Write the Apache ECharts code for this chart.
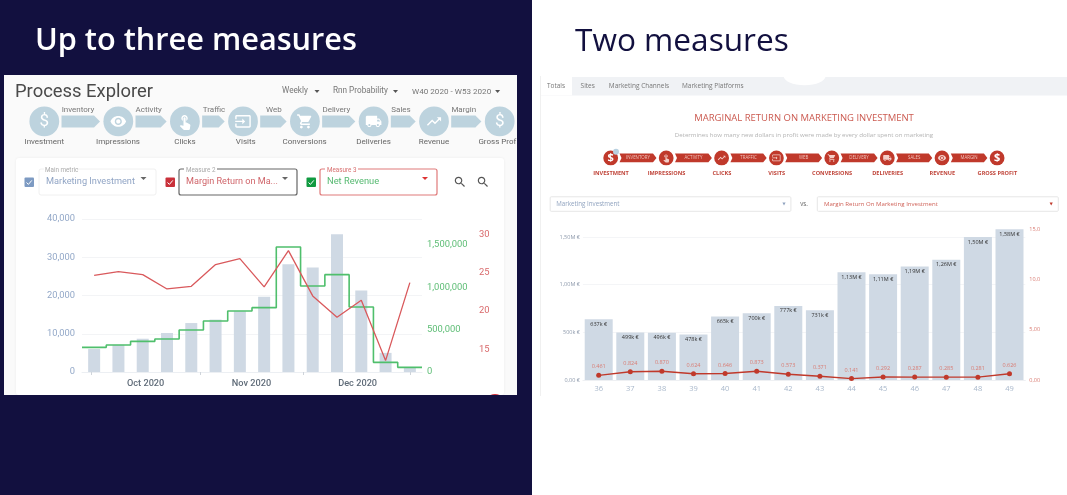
<!DOCTYPE html>
<html><head><meta charset="utf-8">
<style>html,body{margin:0;padding:0;background:#fff}#c{width:1067px;height:495px}</style>
<script src="https://cdn.jsdelivr.net/npm/echarts@6/dist/echarts.min.js"></script>
</head><body><div id="c"></div>
<script>
// ---- left chart data
const leftWeeks = ['W40','W41','W42','W43','W44','W45','W46','W47','W48','W49','W50','W51','W52','W53'];
const marketingInvestment = [6000,7100,8700,10200,12800,13700,15900,19650,28200,27300,36000,21300,5000,1300];
const netRevenue = [291000,319000,362000,390000,496000,602000,720000,760000,1476000,1016000,1150000,768000,114000,55000];
const marginReturn = [24.68,25.16,24.77,22.89,23.24,26.08,26.86,23.16,27.91,21.98,19.19,21.41,13.52,23.72];
const monthLabels = ['Oct 2020','Nov 2020','Dec 2020'];
const monthLabelAt = [2.62,6.98,11.35];
const monthTickAt = [0.4,4.85,9.13,13.52];
// ---- right chart data
const rightWeeks = ['36','37','38','39','40','41','42','43','44','45','46','47','48','49'];
const rightInvestment = [637000,499000,496000,478000,665000,700000,777000,731000,1130000,1110000,1190000,1260000,1500000,1580000];
const rightReturn = [0.461,0.824,0.870,0.624,0.646,0.873,0.573,0.371,0.141,0.292,0.287,0.285,0.281,0.626];
// ---- flow text
const leftStages = ['Investment','Impressions','Clicks','Visits','Conversions','Deliveries','Revenue','Gross Profit'];
const leftLinks = ['Inventory','Activity','Traffic','Web','Delivery','Sales','Margin'];
const rightStages = ['INVESTMENT','IMPRESSIONS','CLICKS','VISITS','CONVERSIONS','DELIVERIES','REVENUE','GROSS PROFIT'];
const rightLinks = ['INVENTORY','ACTIVITY','TRAFFIC','WEB','DELIVERY','SALES','MARGIN'];

const NAVY='#12103f', F='Roboto, sans-serif', O='"Open Sans", sans-serif';
const P = {
 eye:'M12 4.5C7 4.5 2.73 7.61 1 12c1.73 4.39 6 7.5 11 7.5s9.27-3.11 11-7.5c-1.73-4.39-6-7.5-11-7.5zM12 17c-2.76 0-5-2.24-5-5s2.24-5 5-5 5 2.24 5 5-2.24 5-5 5zm0-8c-1.66 0-3 1.34-3 3s1.34 3 3 3 3-1.34 3-3-1.34-3-3-3z',
 cart:'M7 18c-1.1 0-1.99.9-1.99 2S5.9 22 7 22s2-.9 2-2-.9-2-2-2zM1 2v2h2l3.6 7.59-1.35 2.45c-.16.28-.25.61-.25.96 0 1.1.9 2 2 2h12v-2H7.42c-.14 0-.25-.11-.25-.25l.03-.12.9-1.63h7.45c.75 0 1.41-.41 1.75-1.03l3.58-6.49c.08-.12.12-.28.12-.42 0-.55-.45-1-1-1H5.21l-.94-2H1zm16 16c-1.1 0-1.99.9-1.99 2s.89 2 1.99 2 2-.9 2-2-.9-2-2-2z',
 truck:'M20 8h-3V4H3c-1.1 0-2 .9-2 2v11h2c0 1.66 1.34 3 3 3s3-1.34 3-3h6c0 1.66 1.34 3 3 3s3-1.34 3-3h2v-5l-3-4zM6 18.5c-.83 0-1.5-.67-1.5-1.5s.67-1.5 1.5-1.5 1.5.67 1.5 1.5-.67 1.5-1.5 1.5zm13.5-9l1.96 2.5H17V9.5h2.5zm-1.5 9c-.83 0-1.5-.67-1.5-1.5s.67-1.5 1.5-1.5 1.5.67 1.5 1.5-.67 1.5-1.5 1.5z',
 trend:'M16 6l2.29 2.29-4.88 4.88-4-4L2 16.59 3.41 18l6-6 4 4 6.3-6.29L22 12V6z',
 input:'M21 3.01H3c-1.1 0-2 .9-2 2V9h2V4.99h18v14.03H3V15H1v4.01c0 1.1.9 1.98 2 1.98h18c1.1 0 2-.88 2-1.98v-14c0-1.11-.9-2-2-2zM11 16l4-4-4-4v3H1v2h10v3z',
 touch:'M9 11.24V7.5C9 6.12 10.12 5 11.5 5S14 6.12 14 7.5v3.74c1.21-.81 2-2.18 2-3.74C16 5.01 13.99 3 11.5 3S7 5.01 7 7.5c0 1.56.79 2.93 2 3.74zm9.84 4.63l-4.54-2.26c-.17-.07-.35-.11-.54-.11H13v-6c0-.83-.67-1.5-1.5-1.5S10 6.67 10 7.5v10.74l-3.43-.72c-.08-.01-.15-.03-.24-.03-.31 0-.59.13-.79.33l-.79.8 4.94 4.94c.27.27.65.44 1.06.44h6.79c.75 0 1.33-.55 1.44-1.28l.75-5.27c.01-.07.02-.14.02-.2 0-.62-.38-1.16-.91-1.38z',
 zoom:'M15.5 14h-.79l-.28-.27C15.41 12.59 16 11.11 16 9.5 16 5.91 13.09 3 9.5 3S3 5.91 3 9.5 5.91 16 9.5 16c1.61 0 3.09-.59 4.23-1.57l.27.28v.79l5 4.99L20.49 19l-4.99-5zm-6 0C7.01 14 5 11.99 5 9.5S7.01 5 9.5 5 14 7.01 14 9.5 11.99 14 9.5 14z'
};
Object.keys(P).forEach(k=>echarts.graphic.registerShape('ic_'+k,echarts.graphic.extendPath(P[k],{})));
const g = [];
const rect=(x,y,w,h,fill,extra={},r=0)=>g.push({type:'rect',shape:{x,y,width:w,height:h,r},style:{fill,...extra},silent:true});
const txt=(x,y,text,size,fill,font=F,align='left',weight=400)=>g.push({type:'text',x,y,silent:true,style:{text,fontSize:size,fill,fontFamily:font,align,verticalAlign:'middle',fontWeight:weight}});
const circ=(cx,cy,r,fill)=>g.push({type:'circle',shape:{cx,cy,r},style:{fill},silent:true});
const poly=(pts,fill)=>g.push({type:'polygon',shape:{points:pts},style:{fill},silent:true});
const icon=(k,cx,cy,s,fill)=>g.push({type:'ic_'+k,x:cx-s/2,y:cy-s/2,scaleX:s/24,scaleY:s/24,style:{fill},silent:true});
const caret=(x,y,fill,s=3)=>poly([[x-s,y-1.5],[x+s,y-1.5],[x,y+1.5]],fill);
const arrow=(x1,x2,y,h,fill,tip)=>poly([[x1,y-h/2],[x2-tip,y-h/2],[x2,y],[x2-tip,y+h/2],[x1,y+h/2],[x1+(tip>4?0:2),y]],fill);

// page
rect(0,0,532,495,NAVY);
txt(35,41.5,'Up to three measures',30.7,'#ffffff',O,'left',600);
txt(575,41.5,'Two measures',31.6,NAVY,O,'left',500);

// left screenshot panel
rect(4,75,513,320,'#fafafa');
txt(15,92.5,'Process Explorer',18.4,'#4a4a4a');
txt(282,91,'Weekly',8.2,'#777'); caret(317,91.5,'#555',2.5);
txt(333,91,'Rnn Probability',8.2,'#777'); caret(395.5,91.5,'#555',2.5);
txt(412,91.5,'W40 2020 - W53 2020',8.1,'#777'); caret(497.6,91.5,'#555',2.5);
const lcx=[44.3,118.3,184.9,243,304.9,373.6,434,499.7];
const llx=[78,148.7,214,273.8,336.4,401,463.8];
const lbx=[44.3,118,185,245.8,304.6,373.6,434];
const lIcons=[null,'eye','touch','input','cart','truck','trend',null];
const STEEL='#bdd3de', FY=121.4;
lcx.forEach((x,i)=>{
  circ(x,FY,14.9,STEEL);
  if(i<7){ arrow(x+17.2,lcx[i+1]-18.3,FY,12,STEEL,6); txt(llx[i],109.6,leftLinks[i],8,'#777',F,'center'); }
  if(lIcons[i]) icon(lIcons[i],x,FY,17,'#fff'); else txt(x,FY+.5,'$',17,'#fff',F,'center');
  if(i<7) txt(lbx[i],141.7,leftStages[i],8,'#666',F,'center');
});
txt(478.4,141.7,'Gross Prof',8,'#666');
rect(16,158,488,237,'#ffffff',{shadowBlur:3,shadowColor:'rgba(0,0,0,0.06)'},3);

// measure selectors
const box=(x,w,border,lw)=>rect(x,169,w,26,'#fff',{stroke:border,lineWidth:lw},2);
const check=(x,fill)=>{rect(x-4.5,177.5,9.5,9.5,fill,{},1);g.push({type:'polyline',shape:{points:[[x-2.5,182.5],[x-.6,184.4],[x+2.8,180.4]]},style:{stroke:'#fff',lineWidth:1,fill:null},silent:true});};
check(29,'#7d9ac2'); box(39,117,'#f0f0f0',1);
rect(44,167,33,5,'#fff'); txt(45,170.5,'Main metric',6.3,'#aaa');
txt(46,181.5,'Marketing Investment',9.2,'#91a5c5'); caret(143.5,178.5,'#666');
check(170,'#c9303a'); box(179,118,'#666',1.2);
rect(184,167,33,5,'#fff'); txt(186,170.5,'Measure 2',6.3,'#aaa');
txt(186,181.5,'Margin Return on Ma...',9.1,'#d0656a'); caret(285,178.5,'#666');
check(311,'#109a40'); box(320,117,'#e07a7a',1.2);
rect(325,167,33,5,'#fff'); txt(327,170.5,'Measure 3',6.3,'#d87070');
txt(327,181.5,'Net Revenue',9.3,'#55b970'); caret(425,178.5,'#d33');
icon('zoom',460,182,14,'#555'); icon('zoom',483,182,14,'#555');
circ(495,406,12,'#d3323a');
rect(0,395,532,100,NAVY);

// right panel
rect(540,76,1,320,'#f0f0f0');
rect(541,77,526,18.4,'#f0f2f5');
g.push({type:'ellipse',shape:{cx:804.6,cy:76,rx:21,ry:9.2},style:{fill:'#fff'},silent:true});
rect(541,77,31,18.4,'#ffffff');
txt(556,86.2,'Totals',6.5,'#777',O,'center');
txt(587.7,86.2,'Sites',6.5,'#777',O,'center');
txt(639,86.2,'Marketing Channels',6.5,'#777',O,'center');
txt(712.8,86.2,'Marketing Platforms',6.5,'#777',O,'center');
txt(804,118.7,'MARGINAL RETURN ON MARKETING INVESTMENT',9.5,'#cb5a50',O,'center');
txt(804,135.6,'Determines how many new dollars in profit were made by every dollar spent on marketing',6.15,'#b3b3b3',O,'center');
const rcx=[610.7,666.2,721.6,776.4,831.8,887.3,942,997.1];
const RED='#c0392b', RY=157.9;
const rIcons=[null,'touch','trend','input','cart','truck','eye',null];
rcx.forEach((x,i)=>{
  circ(x,RY,7.4,RED);
  if(i<7){ arrow(x+8.8,rcx[i+1]-9.7,RY,8.8,RED,3.5); txt((x+rcx[i+1])/2-.5,RY+.2,rightLinks[i],4.4,'#f0c4bd',O,'center'); }
  if(rIcons[i]) icon(rIcons[i],x,RY,9,'#f3cfc9'); else txt(x,RY+.3,'$',11,'#fff',O,'center',700);
  txt(x+.3,173.4,rightStages[i],5.6,'#c0453a',O,'center',700);
});
circ(616,151.8,3,'#b8d0e0');
rect(550.2,196.8,240.7,14.5,'#fff',{stroke:'#e6e6e6',lineWidth:1},1);
txt(556.3,204,'Marketing Investment',6.2,'#90a3bf',O); caret(784,204,'#90a3bf',1.6);
txt(804,204.5,'vs.',6.2,'#666',O,'center');
rect(817.3,196.8,241,14.5,'#fff',{stroke:'#e6e6e6',lineWidth:1},1);
txt(824,204,'Margin Return On Marketing Investment',6.05,'#cf6258',O); caret(1051.2,204,'#c0392b',1.6);

const hide={show:false};
const L=82, W=340, RL=582.9, RW=442.4;
const money=v=> v===0?'0,00 €': v>=1e6?(v/1e6).toFixed(2).replace('.',',')+'M €':Math.round(v/1000)+'k €';
const rightAxisFmt=v=> v===15?'15,0':v===10?'10,0':v.toFixed(2).replace('.',',');
const option={
 animation:false,
 textStyle:{fontFamily:F},
 graphic:{elements:g},
 grid:[
  {left:L,width:W,top:219,height:153},
  {left:L,width:W,top:202.7,height:169.3},
  {left:L,width:W,top:196.4,height:191.1},
  {left:RL,width:RW,top:189.3,height:190.7},
  {left:RL,width:RW,top:229,height:151}
 ],
 xAxis:[
  {gridIndex:0,type:'category',data:leftWeeks,axisLabel:hide,axisTick:hide,axisLine:{lineStyle:{color:'#eceff3'}}},
  {gridIndex:0,type:'value',min:0,max:14,position:'bottom',splitLine:hide,
   axisLine:hide,
   axisTick:{show:true,length:3,lineStyle:{color:'#cfd4da'},customValues:monthTickAt},
   axisLabel:{show:true,customValues:monthLabelAt,margin:7,fontSize:9.2,color:'#5f6b78',fontFamily:F,fontWeight:500,
     formatter:v=>monthLabels[monthLabelAt.indexOf(v)]}},
  {gridIndex:1,type:'value',min:0,max:14,show:false},
  {gridIndex:2,type:'category',data:leftWeeks,show:false},
  {gridIndex:3,type:'category',data:rightWeeks,axisTick:hide,axisLine:{lineStyle:{color:'#eef0f3'}},
   axisLabel:{fontSize:7.5,color:'#a9b8cb',fontFamily:O,margin:5}},
  {gridIndex:4,type:'category',data:rightWeeks,show:false}
 ],
 yAxis:[
  {gridIndex:0,type:'value',min:0,max:40000,interval:10000,axisLine:hide,axisTick:hide,
   splitLine:{lineStyle:{color:'#f3f4f6'}},
   axisLabel:{fontSize:9.3,color:'#93a8c8',margin:7,formatter:v=>v.toLocaleString('en-US')}},
  {gridIndex:1,type:'value',position:'right',min:0,max:2000000,interval:500000,axisLine:hide,axisTick:hide,splitLine:hide,
   axisLabel:{fontSize:9.4,color:'#5dbd75',margin:5,showMaxLabel:false,formatter:v=>v.toLocaleString('en-US')}},
  {gridIndex:2,type:'value',position:'right',min:10,max:35,interval:5,axisLine:hide,axisTick:hide,splitLine:hide,
   axisLabel:{fontSize:9.4,color:'#d9696b',margin:57,showMinLabel:false,showMaxLabel:false}},
  {gridIndex:3,type:'value',min:0,max:2000000,interval:500000,axisLine:hide,axisTick:hide,
   splitLine:{showMaxLine:false,lineStyle:{color:'#f4f5f7'}},
   axisLabel:{fontSize:5.5,color:'#8d99ab',margin:3,fontFamily:O,showMaxLabel:false,
     formatter:v=>v===500000?'500k €':v===0?'0,00 €':(v/1e6).toFixed(2).replace('.',',')+'M €'}},
  {gridIndex:4,type:'value',position:'right',min:0,max:15,interval:5,axisLine:hide,axisTick:hide,splitLine:hide,
   axisLabel:{fontSize:5.5,color:'#d97b72',margin:4,fontFamily:O,formatter:rightAxisFmt}}
 ],
 series:[
  {type:'bar',xAxisIndex:0,yAxisIndex:0,data:marketingInvestment,barWidth:12,itemStyle:{color:'#cfd9e4'}},
  {type:'line',xAxisIndex:2,yAxisIndex:1,step:'end',symbol:'none',clip:false,
   data:netRevenue.map((v,i)=>[i,v]).concat([[netRevenue.length,netRevenue[netRevenue.length-1]]]),
   lineStyle:{color:'#4fbf6c',width:1.6}},
  {type:'line',xAxisIndex:3,yAxisIndex:2,data:marginReturn,symbol:'none',lineStyle:{color:'#d9595c',width:1.3}},
  {type:'bar',xAxisIndex:4,yAxisIndex:3,data:rightInvestment,barWidth:28,itemStyle:{color:'#cfd9e4'},
   label:{show:true,position:'insideTop',distance:2,fontSize:5.5,color:'#333',fontFamily:O,formatter:p=>money(p.value)}},
  {type:'line',xAxisIndex:5,yAxisIndex:4,data:rightReturn,symbol:'circle',symbolSize:5,
   lineStyle:{color:'#c0392b',width:1.4},itemStyle:{color:'#c0392b'},
   label:{show:true,position:'top',distance:3,fontSize:5.5,color:'#d97b72',fontFamily:O,formatter:p=>p.value.toFixed(3)}}
 ]
};
const chart=echarts.init(document.getElementById('c'),null,{renderer:'canvas'});
chart.setOption(option);
</script></body></html>
